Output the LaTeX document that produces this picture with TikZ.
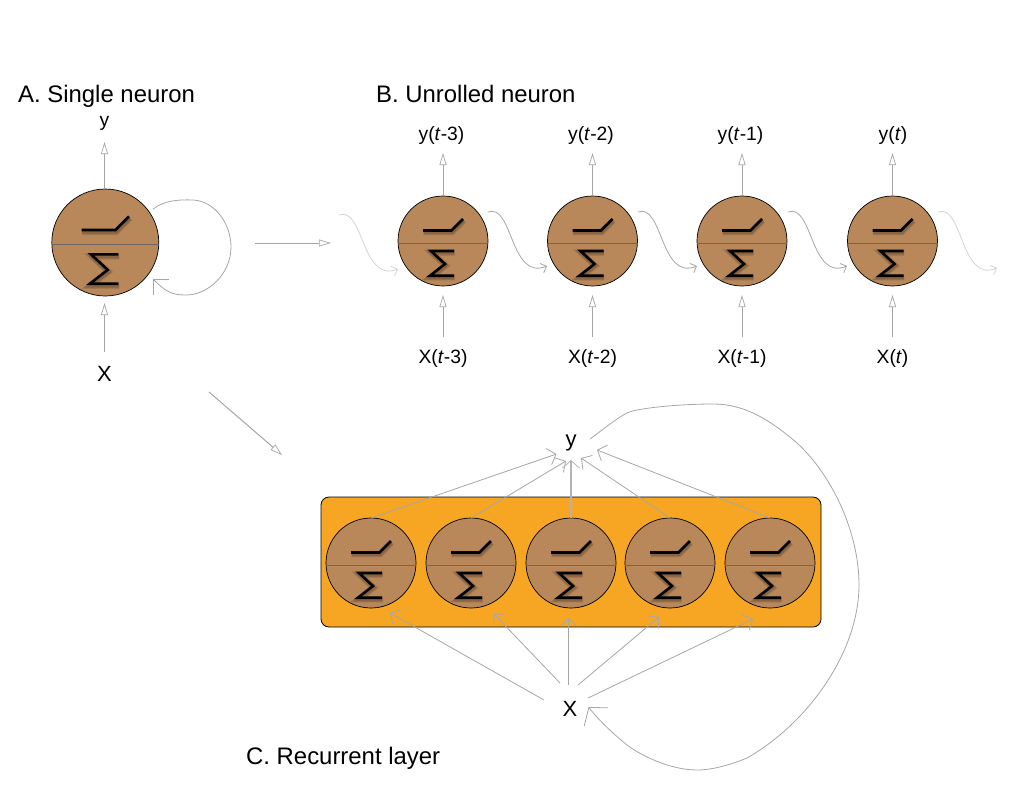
\documentclass[tikz,border=0pt]{standalone}
\usepackage{fontspec}
\setmainfont{Liberation Sans}
\usetikzlibrary{arrows.meta,calc}
\definecolor{cell}{HTML}{B8875A}
\definecolor{layer}{HTML}{F6A623}
\definecolor{conn}{HTML}{A6A6A6}
\definecolor{faint}{HTML}{D4D4D4}
\definecolor{midline}{HTML}{6E675F}
\tikzset{
  x=1pt,y=-1pt,
  neuron/.style={circle,draw=black,line width=0.7pt,fill=cell,inner sep=0pt,outer sep=0pt},
  glyph/.style={line width=2.6pt,black,line join=miter,line cap=butt},
  glyphshadow/.style={black,line join=miter,opacity=0.09},
  conn/.style={draw=conn,line width=0.8pt},
  hollow/.style={conn,line width=1pt,-{Triangle[open,length=12pt,width=7pt,line width=0.7pt]}},
  vee/.style={conn,-{Straight Barb[length=7.5pt,width=17pt,line width=0.8pt]}},
  smallvee/.style={conn,-{Straight Barb[length=5pt,width=10pt,line width=0.8pt]}},
  bigvee/.style={conn,-{Straight Barb[length=11pt,width=22pt,line width=0.8pt]}},
  faintvee/.style={smallvee,draw=faint},
  title/.style={font=\fontsize{23.9}{26}\selectfont,anchor=base west,inner sep=0pt},
  lab/.style={font=\fontsize{19.3}{22}\selectfont,inner sep=0pt},
  biglab/.style={font=\fontsize{22}{26}\selectfont,inner sep=0pt},
}
\newcommand{\neuronglyphs}[1]{%
  \draw[#1] (-20,-10.5) -- (8.5,-10.5) -- (20,-22);
  \draw[#1] (11,10) -- (-12,10) -- (2,23) -- (-13,34.7) -- (11,34.7);}
% #1 name, #2 x, #3 y, #4 radius
\newcommand{\neuroncell}[4]{%
  \node[neuron,minimum size=#4*2pt] (#1) at (#2,#3) {};
  \begin{scope}[shift={(#2,#3)},x=#4/45*1pt,y=-#4/45*1pt]
    \draw[midline,line width=1pt] (-45,2) -- (45,2);
    \begin{scope}[shift={(0.6,1.6)}]
      \neuronglyphs{glyphshadow,line width=6.5pt}
      \neuronglyphs{glyphshadow,line width=5pt}
      \neuronglyphs{glyphshadow,line width=3.6pt}
    \end{scope}
    \neuronglyphs{glyph}
  \end{scope}}
\begin{document}
\begin{tikzpicture}
\useasboundingbox (0,0) rectangle (1009,793);
\node[title] (ta) at (18,102) {A. Single neuron};
\node[title] (tb) at (376,102) {B. Unrolled neuron};
\node[title] (tc) at (246,764.5) {C. Recurrent layer};

% A
\neuroncell{a}{105.3}{242.5}{53.5}
\node[lab] (ay) at (104.5,123) {y};
\node[biglab] (ax) at (104.5,374) {X};
\coordinate (axt) at (104.5,352);
\coordinate (ayt) at (104.5,142);
\coordinate (axh) at (104.5,303);
\draw[hollow] (a.north -| ayt) -- (ayt);
\draw[hollow] (axt) -- (axh);
\coordinate (als) at (153,209);
\coordinate (ale) at (153,279);
\draw[bigvee] (als) .. controls (165,200) and (180,199.5) .. (193,200)
  .. controls (215,201) and (231,224) .. (231,247)
  .. controls (231,274) and (208,295) .. (186,295)
  .. controls (172,295) and (166,292) .. (ale);

% B
\foreach \n/\cx/\t in {1/443/3,2/592.5/2,3/742/1} {
  \neuroncell{b\n}{\cx}{241}{45}
  \node[lab] (by\n) at (\cx-1.5,136) {y(\textit{t}-\t)};
  \node[lab] (bx\n) at (\cx,358.5) {X(\textit{t}-\t)};
  \coordinate (bt\n) at (\cx,153);
  \coordinate (bb\n) at (\cx,295);
  \coordinate (bl\n) at (\cx,337);
  \draw[hollow] (b\n.north) -- (bt\n);
  \draw[hollow] (bl\n) -- (bb\n);
}
\neuroncell{b4}{892.5}{241}{45}
\node[lab] (by4) at (893,136) {y(\textit{t})};
\node[lab] (bx4) at (892.5,358.5) {X(\textit{t})};
\coordinate (bt4) at (892.5,153);
\coordinate (bb4) at (892.5,295);
\coordinate (bl4) at (892.5,337);
\draw[hollow] (b4.north) -- (bt4);
\draw[hollow] (bl4) -- (bb4);
\coordinate (f0) at (339,215);
\coordinate (f1) at (398,269);
\draw[faintvee] (f0) .. controls (364,206) and (361,283) .. (f1);
\foreach \a/\b/\sx/\ex in {b1/b2/488/547,b2/b3/638/697,b3/b4/788/847} {
  \coordinate (s\a) at (\sx,212);
  \coordinate (e\b) at (\ex,266);
  \draw[smallvee] (s\a) .. controls (\sx+25,203) and (\sx+22,281) .. (e\b);
}
\coordinate (g0) at (938,212);
\coordinate (g1) at (997,268);
\draw[faintvee] (g0) .. controls (963,203) and (960,283) .. (g1);

% big arrows
\coordinate (ab0) at (255,243);
\coordinate (ab1) at (331,243);
\draw[hollow] (ab0) -- (ab1);
\coordinate (ac0) at (209,392);
\coordinate (ac1) at (282,455);
\draw[hollow] (ac0) -- (ac1);

% C
\draw[black,line width=0.8pt,fill=layer,rounded corners=8pt] (321,497) rectangle (821,627);
\foreach \n/\cx in {1/371,2/471,3/571,4/670,5/770} {
  \neuroncell{c\n}{\cx}{563}{45}
}
\node[biglab] (cy) at (571,443) {y};
\node[biglab] (cx) at (570,709) {X};
\coordinate (y1) at (556.5,454);
\coordinate (y2) at (566,461);
\coordinate (y3) at (571,460);
\coordinate (y4) at (581,458);
\coordinate (y5) at (597,450);
\draw[vee] (c1.north) -- (y1);
\draw[vee] (c2.north) -- (y2);
\draw[vee,draw=conn!85,line width=1.2pt] (c3.north) -- (y3);
\draw[vee] (c4.north) -- (y4);
\draw[vee] (c5.north) -- (y5);
\coordinate (x1) at (544,700);
\coordinate (x2) at (560,683);
\coordinate (x3) at (568.7,685);
\coordinate (x4) at (578,685);
\coordinate (x5) at (588,698);
\coordinate (t1) at (390,613);
\coordinate (t2) at (494,614);
\coordinate (t3) at (568.7,618);
\coordinate (t4) at (659,617);
\coordinate (t5) at (753,619);
\foreach \n in {1,...,5} { \draw[vee] (x\n) -- (t\n); }
\coordinate (ls) at (590,439);
\coordinate (le) at (588.5,707);
\draw[conn,-{Straight Barb[length=12pt,width=30pt,line width=0.8pt]}] (ls)
  .. controls (605,428) and (617,418) .. (627,413)
  .. controls (637,408) and (680,404) .. (713,404)
  .. controls (745,404) and (770,420) .. (797,443)
  .. controls (830,473) and (859,530) .. (859,585)
  .. controls (859,650) and (810,722) .. (747,758)
  .. controls (730,765) and (712,770) .. (697,770)
  .. controls (670,770) and (640,755) .. (627,745)
  .. controls (617,737) and (600,722) .. (le);
\end{tikzpicture}
\end{document}
